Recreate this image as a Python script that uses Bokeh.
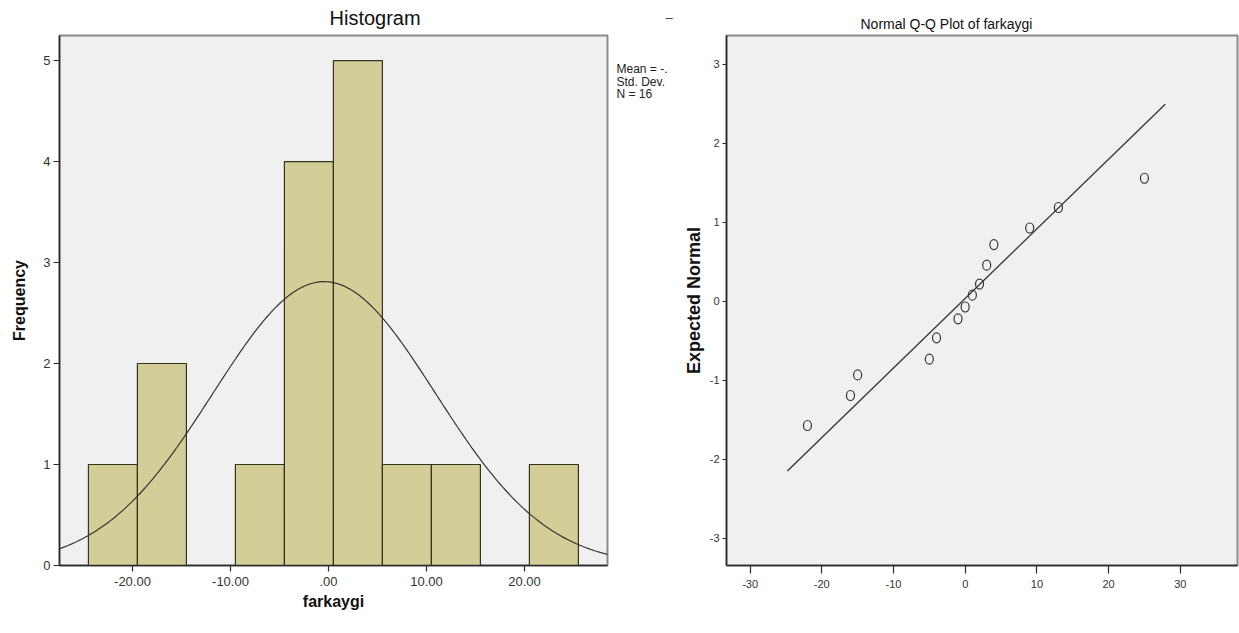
import numpy as np
from bokeh.plotting import figure
from bokeh.models import Range1d, FixedTicker, Label, Title
from bokeh.layouts import row
from bokeh.embed import file_html
from bokeh.resources import INLINE

# ---------------- data ----------------
bin_left = [-24.5, -19.5, -14.5, -9.5, -4.5, 0.5, 5.5, 10.5, 15.5, 20.5]
bin_width = 5
counts = [1, 2, 0, 1, 4, 5, 1, 1, 0, 1]
values = [-22, -16, -15, -5, -4, -4, -1, 0, 1, 2, 3, 3, 4, 9, 13, 25]
hist_ticks = [-20, -10, 0, 10, 20]
hist_tick_labels = ["-20.00", "-10.00", ".00", "10.00", "20.00"]
freq_ticks = [0, 1, 2, 3, 4, 5]
legend_lines = ["Mean = -.", "Std. Dev.", "N = 16"]

qq_x = [-22, -16, -15, -5, -4, -1, 0, 1, 2, 3, 4, 9, 13, 25]
qq_y = [-1.57, -1.19, -0.93, -0.73, -0.46, -0.22, -0.07, 0.08, 0.22, 0.46, 0.72, 0.93, 1.19, 1.56]
qq_line_x = [-24.8, 27.9]
qq_x_ticks = [-30, -20, -10, 0, 10, 20, 30]
qq_x_labels = ["-30", "-20", "-10", "0", "10", "20", "30"]
qq_y_ticks = [-3, -2, -1, 0, 1, 2, 3]
qq_y_labels = ["-3", "-2", "-1", "0", "1", "2", "3"]

mean = float(np.mean(values))
sd = float(np.std(values, ddof=1))
n = len(values)

FONT = "Liberation Sans"
BG = "#f0f0f0"
BAR = "#d3ce97"
DARK = "#2a2a2a"
H = 633
TOP = 35      # shared top border (frames in a row are aligned)
BOTTOM = 68   # shared bottom border


def style(p):
    p.background_fill_color = BG
    p.border_fill_color = "white"
    p.outline_line_color = "#8a8a8a"
    p.outline_line_width = 2
    p.xgrid.visible = False
    p.ygrid.visible = False
    for ax in (p.xaxis[0], p.yaxis[0]):
        ax.axis_line_color = DARK
        ax.axis_line_width = 1.5
        ax.major_tick_line_color = DARK
        ax.major_tick_line_width = 1.2
        ax.major_tick_in = 0
        ax.minor_tick_line_color = None
        ax.major_label_text_font = FONT
        ax.major_label_text_color = "#333333"
        ax.axis_label_text_font = FONT
        ax.axis_label_text_font_style = "bold"
        ax.axis_label_text_color = "#111111"


# ---------------- histogram ----------------
xr = Range1d(-27.45, 28.47)
yr = Range1d(0, 5.248)
p1 = figure(width=609, height=H, x_range=xr, y_range=yr,
            output_backend="svg", toolbar_location=None,
            min_border_left=59, min_border_right=2,
            min_border_top=TOP, min_border_bottom=BOTTOM)
style(p1)

lefts = [l for l, c in zip(bin_left, counts) if c > 0]
tops = [c for c in counts if c > 0]
p1.quad(left=lefts, right=[l + bin_width for l in lefts], bottom=0, top=tops,
        fill_color=BAR, line_color="#33331f", line_width=1.2)

xs = np.linspace(xr.start, xr.end, 300)
ys = n * bin_width * np.exp(-0.5 * ((xs - mean) / sd) ** 2) / (sd * np.sqrt(2 * np.pi))
p1.line(xs, ys, line_color="#333333", line_width=1.2)

p1.xaxis.ticker = FixedTicker(ticks=hist_ticks)
p1.xaxis.major_label_overrides = dict(zip(hist_ticks, hist_tick_labels))
p1.xaxis.major_tick_out = 6
p1.xaxis.major_label_standoff = 5
p1.xaxis.major_label_text_font_size = "13px"
p1.xaxis.axis_label = "farkaygi"
p1.xaxis.axis_label_text_font_size = "16px"
p1.xaxis.axis_label_standoff = 4

p1.yaxis.ticker = FixedTicker(ticks=freq_ticks)
p1.yaxis.major_tick_out = 6
p1.yaxis.major_label_standoff = 3
p1.yaxis.major_label_text_font_size = "13px"
p1.yaxis.axis_label = "Frequency"
p1.yaxis.axis_label_text_font_size = "16px"
p1.yaxis.axis_label_standoff = 12

p1.add_layout(Title(text="Histogram", align="left", offset=270, standoff=9,
                    vertical_align="top",
                    text_font=FONT, text_font_size="20px", text_font_style="normal",
                    text_color="#111111"), "above")

# ---------------- legend strip (clipped SPSS legend) ----------------
pl = figure(width=71, height=H, x_range=Range1d(0, 71), y_range=Range1d(H - BOTTOM, TOP),
            output_backend="svg", toolbar_location=None, min_border=0,
            min_border_top=TOP, min_border_bottom=BOTTOM,
            x_axis_location=None, y_axis_location=None)
pl.grid.visible = False
pl.outline_line_color = None
pl.background_fill_color = "white"
pl.border_fill_color = "white"
for i, t in enumerate(legend_lines):
    pl.add_layout(Label(x=7, y=68.5 + i * 12.5, text=t, text_align="left",
                        text_baseline="middle", text_font=FONT, text_font_size="12px",
                        text_color="#222222"))
pl.add_layout(Title(text="\u2013", align="left", offset=56, standoff=17,
                    vertical_align="top",
                    text_font=FONT, text_font_size="13px", text_font_style="normal",
                    text_color="#444444"), "above")

# ---------------- Q-Q plot ----------------
p2 = figure(width=559, height=H, x_range=Range1d(-33.29, 37.98),
            y_range=Range1d(-3.342, 3.367),
            output_backend="svg", toolbar_location=None,
            min_border_left=41, min_border_right=2,
            min_border_top=TOP, min_border_bottom=BOTTOM)
style(p2)

p2.line(qq_line_x, [(x - mean) / sd for x in qq_line_x], line_color="#333333", line_width=1.3)
p2.ellipse(x=qq_x, y=qq_y, width=8, height=10, width_units="screen", height_units="screen",
           fill_color=None, line_color="#333333", line_width=1.2)

p2.xaxis.ticker = FixedTicker(ticks=qq_x_ticks)
p2.xaxis.major_label_overrides = dict(zip(qq_x_ticks, qq_x_labels))
p2.xaxis.major_tick_out = 8
p2.xaxis.major_label_standoff = 6
p2.xaxis.major_label_text_font_size = "11px"

p2.yaxis.ticker = FixedTicker(ticks=qq_y_ticks)
p2.yaxis.major_label_overrides = dict(zip(qq_y_ticks, qq_y_labels))
p2.yaxis.major_tick_out = 4
p2.yaxis.major_label_standoff = 3
p2.yaxis.major_label_text_font_size = "11px"
p2.yaxis.axis_label = "Expected Normal"
p2.yaxis.axis_label_text_font_size = "18px"
p2.yaxis.axis_label_standoff = 3

p2.add_layout(Title(text="Normal Q-Q Plot of farkaygi", align="left", offset=134, standoff=7,
                    text_font=FONT, text_font_size="14px", text_font_style="normal",
                    text_color="#111111"), "above")

layout = row(p1, pl, p2, spacing=0)
open("out.html", "w").write(file_html(layout, INLINE))
